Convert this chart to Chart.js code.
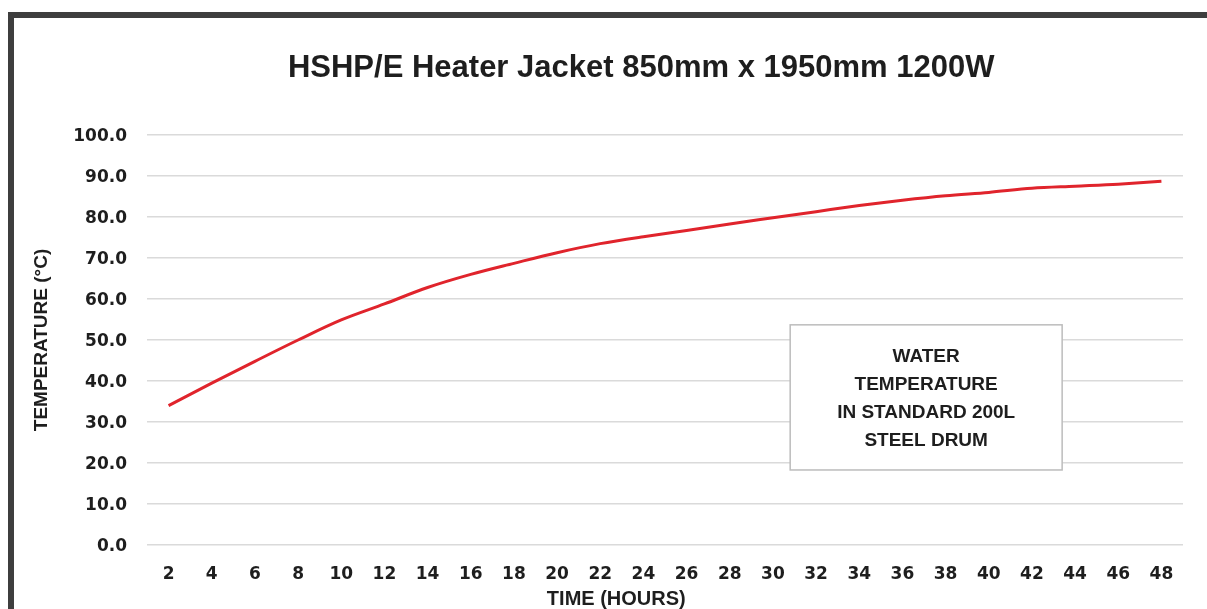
<!DOCTYPE html>
<html>
<head>
<meta charset="utf-8">
<script src="https://cdn.jsdelivr.net/npm/chart.js@4.4.1/dist/chart.umd.min.js"></script>
<style>
  html, body { margin: 0; padding: 0; background: #ffffff; overflow: hidden; }
  #frame {
    position: absolute; left: 8px; top: 12px; width: 1400px; height: 800px;
    border: 6px solid #3e3e3e; box-sizing: border-box;
  }
  #wrap { position: absolute; left: 0; top: 0; width: 1207px; height: 609px; }
</style>
</head>
<body>
<div id="frame"></div>
<div id="wrap"><canvas id="heatChart"></canvas></div>
<script>
"use strict";

var hours = ['2', '4', '6', '8', '10', '12', '14', '16', '18', '20', '22', '24',
  '26', '28', '30', '32', '34', '36', '38', '40', '42', '44', '46', '48'];
var waterTemp = [34.0, 39.5, 44.8, 50.0, 54.9, 58.8, 62.8, 66.0, 68.7, 71.3, 73.5, 75.2,
  76.7, 78.3, 79.8, 81.3, 82.8, 84.1, 85.2, 86.0, 87.0, 87.5, 88.0, 88.7];
var chartTitle = 'HSHP/E Heater Jacket 850mm x 1950mm 1200W';
var xTitle = 'TIME (HOURS)';
var yTitle = 'TEMPERATURE (\u00B0C)';
var noteLines = ['WATER', 'TEMPERATURE', 'IN STANDARD 200L', 'STEEL DRUM'];

var sans = "'Liberation Sans', sans-serif";

// title, x axis title and the note box
var extras = {
  id: 'extras',
  afterDraw: function (chart) {
    var ctx = chart.ctx;
    var area = chart.chartArea;
    var x = chart.scales.x;
    var y = chart.scales.y;
    ctx.save();
    ctx.fillStyle = '#1e1e1e';
    ctx.textAlign = 'center';
    ctx.textBaseline = 'middle';

    ctx.font = 'bold 31px ' + sans;
    ctx.fillText(chartTitle, area.left + (area.right - area.left) * 0.477, 68);

    ctx.font = 'bold 20px ' + sans;
    ctx.fillText(xTitle, area.left + (area.right - area.left) * 0.453, 599);

    // note box, placed in data space
    var bx0 = x.getPixelForValue(14.4), bx1 = x.getPixelForValue(20.7);
    var by0 = y.getPixelForValue(53.7), by1 = y.getPixelForValue(18.3);
    ctx.fillStyle = '#ffffff';
    ctx.fillRect(bx0, by0, bx1 - bx0, by1 - by0);
    ctx.strokeStyle = '#bcbcbc';
    ctx.lineWidth = 1.5;
    ctx.strokeRect(bx0, by0, bx1 - bx0, by1 - by0);
    ctx.fillStyle = '#1e1e1e';
    ctx.font = 'bold 19px ' + sans;
    var cx = (bx0 + bx1) / 2;
    noteLines.forEach(function (line, i) {
      ctx.fillText(line, cx, by0 + 32 + i * 28);
    });
    ctx.restore();
  }
};

var heatCtx = document.getElementById('heatChart').getContext('2d');
var heatChart = new Chart(heatCtx, {
  type: 'line',
  data: {
    labels: hours,
    datasets: [{
      label: 'Water temperature',
      data: waterTemp,
      borderColor: '#e0242c',
      borderWidth: 3,
      pointRadius: 0,
      tension: 0.4,
      cubicInterpolationMode: 'monotone',
      fill: false
    }]
  },
  options: {
    responsive: true,
    maintainAspectRatio: false,
    animation: false,
    layout: {
      padding: { left: 0, right: 24, top: 135, bottom: 0 }
    },
    plugins: {
      legend: { display: false },
      title: { display: false },
      tooltip: { enabled: false }
    },
    scales: {
      x: {
        offset: true,
        grid: { display: false, drawTicks: false },
        border: { display: false },
        ticks: {
          color: '#1e1e1e',
          padding: 19,
          maxRotation: 0,
          autoSkip: false,
          font: { family: "'DejaVu Sans', sans-serif", weight: 'bold', size: 17 }
        },
        afterFit: function (s) { s.height = 64; }
      },
      y: {
        min: 0,
        max: 100,
        grid: { color: '#dadada', lineWidth: 1.5, drawTicks: false },
        border: { display: false },
        ticks: {
          stepSize: 10,
          color: '#1e1e1e',
          padding: 20,
          labelOffset: 2,
          font: { family: "'DejaVu Sans', sans-serif", weight: 'bold', size: 17 },
          callback: function (v) { return Number(v).toFixed(1); }
        },
        title: {
          display: true,
          text: yTitle,
          color: '#1e1e1e',
          padding: { top: 30, bottom: 0 },
          font: { family: sans, weight: 'bold', size: 19 }
        },
        afterFit: function (s) { s.width = 147; }
      }
    }
  },
  plugins: [extras]
});
</script>
</body>
</html>
